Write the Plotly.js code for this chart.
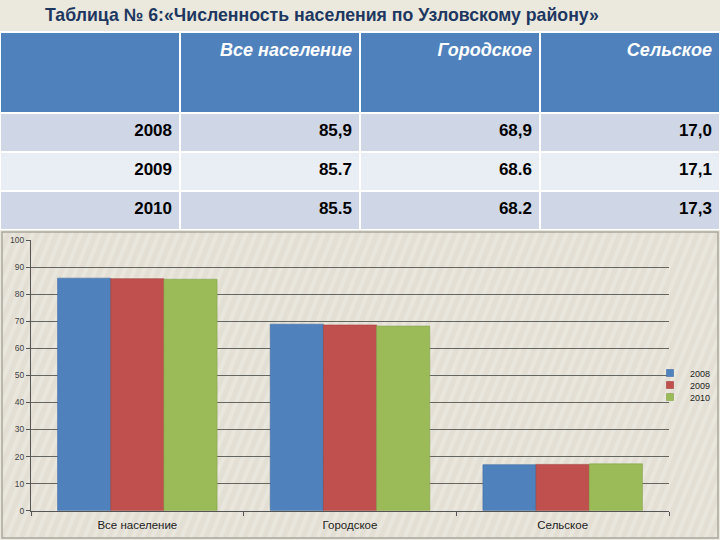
<!DOCTYPE html>
<html>
<head>
<meta charset="utf-8">
<script src="https://cdn.plot.ly/plotly-3.0.1.min.js"></script>
<style>html,body{margin:0;padding:0;background:#ebe8de;overflow:hidden;}#chart{width:720px;height:540px;}</style>
</head>
<body>
<div id="chart"></div>
<script>
const categories = ['Все население', 'Городское', 'Сельское'];
const years = ['2008', '2009', '2010'];
const values2008 = [85.9, 68.9, 17.0];
const values2009 = [85.7, 68.6, 17.1];
const values2010 = [85.5, 68.2, 17.3];
const tableLabels2008 = ['85,9', '68,9', '17,0'];
const tableLabels2009 = ['85.7', '68.6', '17,1'];
const tableLabels2010 = ['85.5', '68.2', '17,3'];
const yTicks = [0, 10, 20, 30, 40, 50, 60, 70, 80, 90, 100];

const seriesValues = [values2008, values2009, values2010];
const tableRows = [tableLabels2008, tableLabels2009, tableLabels2010];
const colors = ['#4f81bd', '#c0504d', '#9bbb59'];
const lineColors = ['#3f6ea6', '#a43f3c', '#84a248'];

const W = 720, H = 540;
const px = v => v / W;
const py = v => 1 - v / H;

const headerVals = [''].concat(categories).map(t => t ? '<b><i>' + t + '</i></b>' : '');
const colFirst = years.map(y => '<b>' + y + '</b>');
const cellCols = [colFirst];
for (let c = 0; c < categories.length; c++) {
  cellCols.push(tableRows.map(r => '<b>' + r[c] + '</b>'));
}

const traces = [];
traces.push({
  type: 'table',
  domain: {x: [0, 1], y: [py(230), py(32)]},
  columnwidth: [1, 1, 1, 1],
  header: {
    values: headerVals,
    align: 'right',
    height: 81,
    fill: {color: '#4f81bd'},
    line: {color: '#ffffff', width: 2},
    font: {family: 'Liberation Sans, Arial, sans-serif', size: 18, color: '#ffffff'}
  },
  cells: {
    values: cellCols,
    align: 'right',
    height: 39,
    fill: {color: [['#cfd7e6', '#e9edf4', '#cfd7e6']]},
    line: {color: '#ffffff', width: 2},
    font: {family: 'Liberation Sans, Arial, sans-serif', size: 17, color: '#000000'}
  }
});

const legendIds = ['legend', 'legend2', 'legend3'];
const legendY = [373, 385, 397];

for (let i = 0; i < years.length; i++) {
  traces.push({
    type: 'bar',
    x: categories,
    y: seriesValues[i],
    name: years[i],
    showlegend: false,
    marker: {color: colors[i], line: {color: lineColors[i], width: 0.6}},
    xaxis: 'x', yaxis: 'y',
    hoverinfo: 'skip'
  });
  traces.push({
    type: 'scatter',
    mode: 'markers',
    x: [null], y: [null],
    name: years[i],
    showlegend: true,
    legend: legendIds[i],
    marker: {symbol: 'square', size: 7, color: colors[i], line: {color: lineColors[i], width: 0.6}},
    xaxis: 'x', yaxis: 'y'
  });
}

function legendAt(yPix) {
  return {
    x: px(650), xanchor: 'left', y: py(yPix), yanchor: 'middle',
    font: {family: 'Liberation Sans, Arial, sans-serif', size: 9, color: '#222'},
    bgcolor: 'rgba(0,0,0,0)',
    borderwidth: 0,
    itemwidth: 30
  };
}

const stripeSvg = '<svg xmlns="http://www.w3.org/2000/svg" width="716" height="306">' +
  '<defs><pattern id="p" width="9" height="9" patternUnits="userSpaceOnUse" patternTransform="rotate(22)">' +
  '<rect width="9" height="9" fill="#e3dfd4"/><rect width="4" height="9" fill="#e9e6dd"/></pattern></defs>' +
  '<rect width="716" height="306" fill="url(#p)"/></svg>';

const layout = {
  width: W, height: H,
  margin: {l: 0, r: 0, t: 0, b: 0, autoexpand: false},
  paper_bgcolor: '#ebe8de',
  plot_bgcolor: 'rgba(0,0,0,0)',
  title: {
    text: '<b>Таблица № 6:«Численность населения по Узловскому району»</b>',
    x: px(45), xanchor: 'left', xref: 'paper',
    y: 1 - 15 / H, yanchor: 'middle', yref: 'container',
    automargin: false,
    font: {family: 'Liberation Sans, Arial, sans-serif', size: 17.7, color: '#1d3760'}
  },
  barmode: 'group',
  bargap: 0.25,
  bargroupgap: 0,
  showlegend: true,
  legend: legendAt(legendY[0]),
  legend2: legendAt(legendY[1]),
  legend3: legendAt(legendY[2]),
  xaxis: {
    domain: [px(31), px(669)],
    anchor: 'y',
    type: 'category',
    showgrid: false,
    showline: true, linecolor: '#555', linewidth: 1,
    ticks: 'outside', ticklen: 4, tickcolor: '#555', tickson: 'boundaries',
    ticklabelstandoff: 3,
    tickfont: {family: 'Liberation Sans, Arial, sans-serif', size: 11.5, color: '#222'},
    fixedrange: true
  },
  yaxis: {
    domain: [py(510.7), py(240)],
    anchor: 'x',
    range: [0, 100],
    tickvals: yTicks,
    ticktext: yTicks.map(String),
    showgrid: true, gridcolor: '#666660', gridwidth: 1,
    zeroline: false,
    showline: true, linecolor: '#555', linewidth: 1,
    ticks: 'outside', ticklen: 4, tickcolor: '#555',
    tickfont: {family: 'Liberation Sans, Arial, sans-serif', size: 8.5, color: '#444'},
    fixedrange: true
  },
  images: [{
    source: 'data:image/svg+xml;charset=utf-8,' + encodeURIComponent(stripeSvg),
    xref: 'paper', yref: 'paper',
    x: px(2), y: py(232), sizex: px(716), sizey: 306 / H,
    xanchor: 'left', yanchor: 'top', sizing: 'stretch', layer: 'below'
  }],
  shapes: [{
    type: 'rect', xref: 'paper', yref: 'paper', layer: 'below',
    x0: px(2), x1: px(718), y0: py(538), y1: py(232),
    fillcolor: 'rgba(0,0,0,0)', line: {color: '#a9a79f', width: 1.5}
  }]
};

Plotly.newPlot('chart', traces, layout, {staticPlot: true, displayModeBar: false});
</script>
</body>
</html>
